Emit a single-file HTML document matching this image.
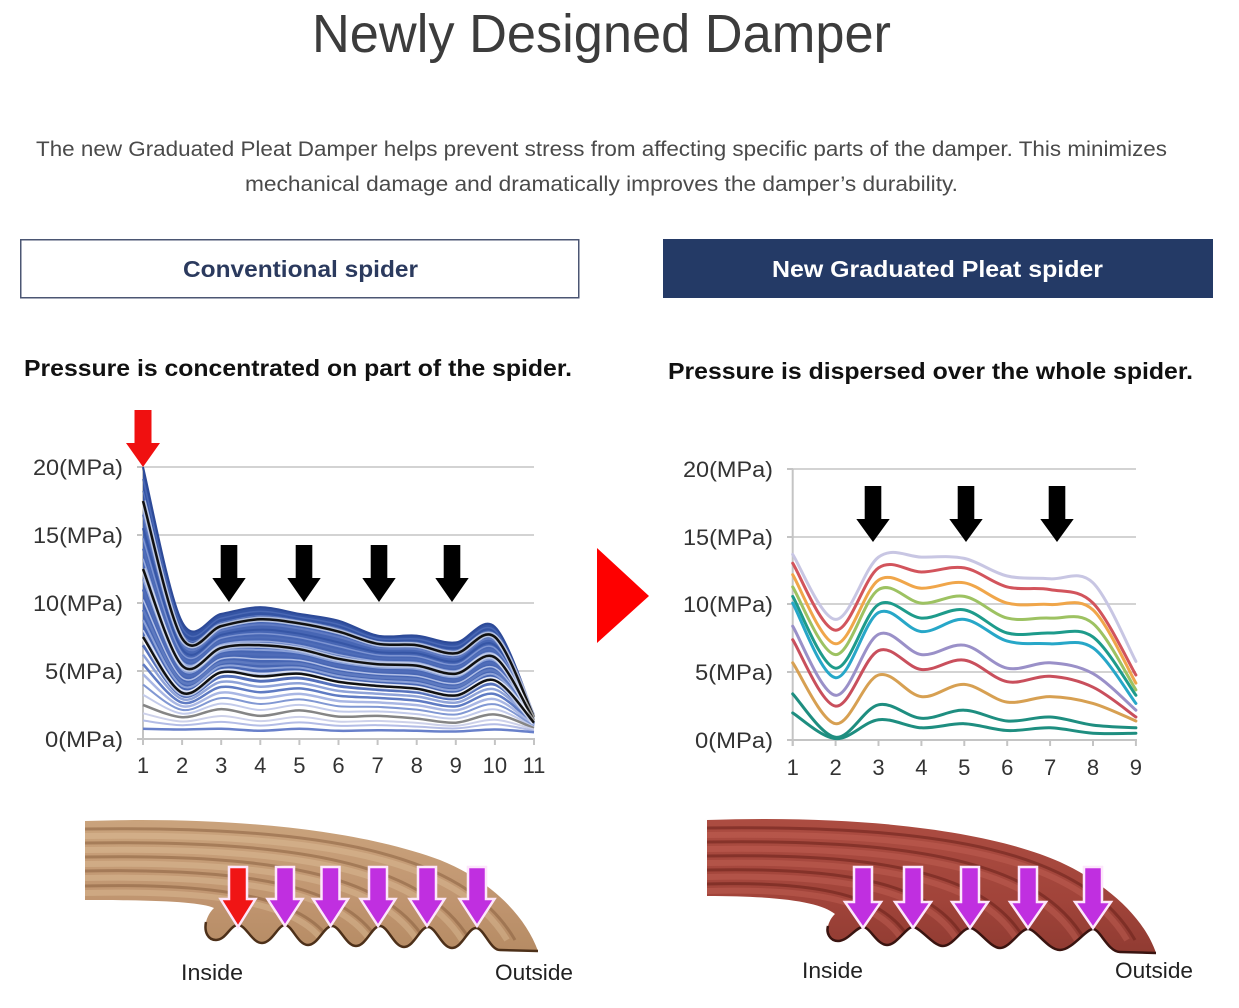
<!DOCTYPE html>
<html><head><meta charset="utf-8">
<style>
html,body{margin:0;padding:0;background:#fff;width:1239px;height:1008px;overflow:hidden}
svg{display:block}
text{font-family:"Liberation Sans",Arial,sans-serif}
</style></head><body>
<svg id="s" width="1239" height="1008" viewBox="0 0 1239 1008" xmlns="http://www.w3.org/2000/svg">
<defs>
 <linearGradient id="tan" x1="0" y1="0" x2="0" y2="1">
   <stop offset="0" stop-color="#cba57e"/><stop offset="0.6" stop-color="#c09570"/><stop offset="1" stop-color="#b48a62"/>
 </linearGradient>
 <linearGradient id="mar" x1="0" y1="0" x2="0" y2="1">
   <stop offset="0" stop-color="#ad4d42"/><stop offset="0.6" stop-color="#a1443a"/><stop offset="1" stop-color="#8e3a31"/>
 </linearGradient>
 <clipPath id="clipL"><path d="M85 821 C230 816 360 830 440 860 C490 880 525 915 538 951 L500 950 C490 950 484 928 476 928 C468 928 462 948 452 948 C442 948 436 927 428 927 C420 927 414 947 404 947 C394 947 388 926 380 926 C372 926 366 946 356 946 C346 946 340 926 332 926 C324 926 318 945 308 945 C298 945 292 925 285 925 C278 925 272 943 262 943 C252 943 246 925 238 925 C230 925 226 940 216 940 C208 940 204 932 206 922 C208 914 212 910 214 908 C200 902 160 900 85 900 Z"/></clipPath>
 <clipPath id="clipR"><path d="M707 820 C880 814 1000 835 1060 862 C1110 885 1145 920 1156 953 L1120 952 C1108 952 1100 929 1093 929 C1086 929 1072 950 1060 950 C1048 950 1036 929 1028 929 C1020 929 1010 948 1000 948 C990 948 978 928 970 928 C962 928 953 946 943 946 C933 946 920 927 913 927 C906 927 897 945 887 945 C877 945 870 927 863 927 C856 927 848 941 838 941 C830 941 826 933 828 926 C830 919 833 916 835 914 C820 902 780 896 707 896 Z"/></clipPath>
</defs>

<!-- Header -->
<text x="312" y="52" font-size="54" fill="#3c3c3c" textLength="579" lengthAdjust="spacingAndGlyphs">Newly Designed Damper</text>
<text x="36" y="156" font-size="21" fill="#4a4a4a" textLength="1131" lengthAdjust="spacingAndGlyphs">The new Graduated Pleat Damper helps prevent stress from affecting specific parts of the damper. This minimizes</text>
<text x="245" y="191" font-size="21" fill="#4a4a4a" textLength="713" lengthAdjust="spacingAndGlyphs">mechanical damage and dramatically improves the damper’s durability.</text>

<!-- Boxes -->
<rect x="20.75" y="239.75" width="558" height="58" fill="#fff" stroke="#4b5673" stroke-width="1.5"/>
<text x="183" y="277" font-size="23" font-weight="bold" fill="#2b3a5e" textLength="235" lengthAdjust="spacingAndGlyphs">Conventional spider</text>
<rect x="663" y="239" width="550" height="59" fill="#243a66"/>
<text x="772" y="277" font-size="23" font-weight="bold" fill="#fff" textLength="331" lengthAdjust="spacingAndGlyphs">New Graduated Pleat spider</text>

<!-- Subtitles -->
<text x="24" y="376" font-size="23" font-weight="bold" fill="#111" textLength="548" lengthAdjust="spacingAndGlyphs">Pressure is concentrated on part of the spider.</text>
<text x="668" y="379" font-size="23" font-weight="bold" fill="#111" textLength="525" lengthAdjust="spacingAndGlyphs">Pressure is dispersed over the whole spider.</text>

<!-- Left chart axes -->
<g stroke="#d3d3d3" stroke-width="2">
 <line x1="137" y1="467" x2="534" y2="467"/>
 <line x1="137" y1="535" x2="534" y2="535"/>
 <line x1="137" y1="603" x2="534" y2="603"/>
 <line x1="137" y1="671" x2="534" y2="671"/>
</g>
<g stroke="#c4c4c4" stroke-width="2">
 <line x1="137" y1="739" x2="535" y2="739"/>
 <line x1="143" y1="467" x2="143" y2="745"/>
</g>
<g id="ticksL" stroke="#c4c4c4" stroke-width="2"></g>
<g font-size="22" fill="#333" text-anchor="end">
 <text x="123" y="475" textLength="90" lengthAdjust="spacingAndGlyphs">20(MPa)</text>
 <text x="123" y="543" textLength="90" lengthAdjust="spacingAndGlyphs">15(MPa)</text>
 <text x="123" y="611" textLength="90" lengthAdjust="spacingAndGlyphs">10(MPa)</text>
 <text x="123" y="679" textLength="78" lengthAdjust="spacingAndGlyphs">5(MPa)</text>
 <text x="123" y="747" textLength="78" lengthAdjust="spacingAndGlyphs">0(MPa)</text>
</g>
<g font-size="22" fill="#333" text-anchor="middle">
 <text x="143" y="773">1</text><text x="182.1" y="773">2</text><text x="221.2" y="773">3</text>
 <text x="260.3" y="773">4</text><text x="299.4" y="773">5</text><text x="338.5" y="773">6</text>
 <text x="377.6" y="773">7</text><text x="416.7" y="773">8</text><text x="455.8" y="773">9</text>
 <text x="494.9" y="773">10</text><text x="534" y="773">11</text>
</g>

<!-- Right chart axes -->
<g stroke="#d3d3d3" stroke-width="2">
 <line x1="787" y1="469" x2="1136" y2="469"/>
 <line x1="787" y1="537" x2="1136" y2="537"/>
 <line x1="787" y1="604" x2="1136" y2="604"/>
 <line x1="787" y1="672" x2="1136" y2="672"/>
</g>
<g stroke="#c4c4c4" stroke-width="2">
 <line x1="787" y1="740" x2="1137" y2="740"/>
 <line x1="792.7" y1="469" x2="792.7" y2="746"/>
</g>
<g id="ticksR" stroke="#c4c4c4" stroke-width="2"></g>
<g font-size="22" fill="#333" text-anchor="end">
 <text x="773" y="477" textLength="90" lengthAdjust="spacingAndGlyphs">20(MPa)</text>
 <text x="773" y="545" textLength="90" lengthAdjust="spacingAndGlyphs">15(MPa)</text>
 <text x="773" y="612" textLength="90" lengthAdjust="spacingAndGlyphs">10(MPa)</text>
 <text x="773" y="680" textLength="78" lengthAdjust="spacingAndGlyphs">5(MPa)</text>
 <text x="773" y="748" textLength="78" lengthAdjust="spacingAndGlyphs">0(MPa)</text>
</g>
<g font-size="22" fill="#333" text-anchor="middle">
 <text x="792.7" y="775">1</text><text x="835.6" y="775">2</text><text x="878.5" y="775">3</text>
 <text x="921.4" y="775">4</text><text x="964.3" y="775">5</text><text x="1007.2" y="775">6</text>
 <text x="1050.1" y="775">7</text><text x="1093" y="775">8</text><text x="1135.9" y="775">9</text>
</g>

<g id="leftLines"></g>
<g id="rightLines"></g>

<!-- Chart arrows -->
<polygon points="134.5,410 151.5,410 151.5,443 160,443 143,467 126,443 134.5,443" fill="#f01010"/>
<g fill="#000">
 <polygon points="220.7,545 237.3,545 237.3,578 245.7,578 229,602 212.3,578 220.7,578"/>
 <polygon points="295.7,545 312.3,545 312.3,578 320.7,578 304,602 287.3,578 295.7,578"/>
 <polygon points="370.7,545 387.3,545 387.3,578 395.7,578 379,602 362.3,578 370.7,578"/>
 <polygon points="443.7,545 460.3,545 460.3,578 468.7,578 452,602 435.3,578 443.7,578"/>
 <polygon points="864.7,486 881.3,486 881.3,519 889.7,519 873,542 856.3,519 864.7,519"/>
 <polygon points="957.7,486 974.3,486 974.3,519 982.7,519 966,542 949.3,519 957.7,519"/>
 <polygon points="1048.7,486 1065.3,486 1065.3,519 1073.7,519 1057,542 1040.3,519 1048.7,519"/>
</g>

<!-- Big red triangle -->
<polygon points="597,548 649,596 597,643" fill="#fe0000"/>

<!-- Spider illustrations -->
<g clip-path="url(#clipL)">
 <rect x="80" y="810" width="470" height="150" fill="url(#tan)"/>
 <g id="groovesL"></g>
</g>
<path d="M538 951 L500 950 C490 950 484 928 476 928 C468 928 462 948 452 948 C442 948 436 927 428 927 C420 927 414 947 404 947 C394 947 388 926 380 926 C372 926 366 946 356 946 C346 946 340 926 332 926 C324 926 318 945 308 945 C298 945 292 925 285 925 C278 925 272 943 262 943 C252 943 246 925 238 925 C230 925 226 940 216 940 C208 940 204 932 206 922" fill="none" stroke="#4d3019" stroke-width="2.5"/>

<g clip-path="url(#clipR)">
 <rect x="700" y="810" width="470" height="150" fill="url(#mar)"/>
 <g id="groovesR"></g>
</g>
<path d="M1156 953 L1120 952 C1108 952 1100 929 1093 929 C1086 929 1072 950 1060 950 C1048 950 1036 929 1028 929 C1020 929 1010 948 1000 948 C990 948 978 928 970 928 C962 928 953 946 943 946 C933 946 920 927 913 927 C906 927 897 945 887 945 C877 945 870 927 863 927 C856 927 848 941 838 941 C830 941 826 933 828 926" fill="none" stroke="#3a1410" stroke-width="2.5"/>

<g id="illArrows" stroke="#fde6fb" stroke-width="2.5" stroke-linejoin="miter"></g>

<g font-size="22" fill="#222">
 <text x="181" y="980" textLength="62" lengthAdjust="spacingAndGlyphs">Inside</text>
 <text x="495" y="980" textLength="78" lengthAdjust="spacingAndGlyphs">Outside</text>
 <text x="802" y="978" textLength="61" lengthAdjust="spacingAndGlyphs">Inside</text>
 <text x="1115" y="978" textLength="78" lengthAdjust="spacingAndGlyphs">Outside</text>
</g>
</svg>

<script>
(function(){
function f(n){return (Math.round(n*10)/10).toString();}
function seg(p){var d='';for(var i=0;i<p.length-1;i++){var p0=p[Math.max(i-1,0)],p1=p[i],p2=p[i+1],p3=p[Math.min(i+2,p.length-1)];
 var c1x=p1[0]+(p2[0]-p0[0])/6,c1y=p1[1]+(p2[1]-p0[1])/6,c2x=p2[0]-(p3[0]-p1[0])/6,c2y=p2[1]-(p3[1]-p1[1])/6;
 d+=' C'+f(c1x)+' '+f(c1y)+' '+f(c2x)+' '+f(c2y)+' '+f(p2[0])+' '+f(p2[1]);}return d;}
function path(p){return 'M'+f(p[0][0])+' '+f(p[0][1])+seg(p);}
function band(a,b){var r=b.slice().reverse();return path(a)+' L'+f(r[0][0])+' '+f(r[0][1])+seg(r)+' Z';}
function interp(a,b,t){return a.map(function(v,i){return v+(b[i]-v)*t;});}

// Left chart
var XL=function(i){return 143+39.1*i;},YL=function(v){return 739-13.6*v;};
function pl(a){return a.map(function(v,i){return [XL(i),YL(v)];});}
var T=[20,8.6,9.2,9.7,9.2,8.7,7.6,7.6,7.1,8.25,1.8];
var B1=[17.5,7.4,8.3,8.8,8.5,7.9,7.0,6.9,6.3,7.5,1.6];
var B2=[12.5,5.4,6.7,6.9,6.6,5.9,5.5,5.4,4.8,6.0,1.35];
var B3=[7.5,3.4,4.9,4.6,4.8,4.2,3.9,3.7,3.2,4.3,1.2];
var G=[2.5,1.6,2.2,1.7,2.1,1.65,1.7,1.5,1.2,1.8,0.8];
var L=[0.75,0.7,0.75,0.6,0.75,0.6,0.65,0.6,0.55,0.7,0.5];
var h='';
h+='<path d="'+band(pl(T),pl(B3))+'" fill="#4766b4"/>';
h+='<path d="'+band(pl(T),pl(B1))+'" fill="#3454a4"/>';
function ln(a,c,w,o){return '<path d="'+path(pl(a))+'" fill="none" stroke="'+c+'" stroke-width="'+w+'"'+(o?' stroke-opacity="'+o+'"':'')+' stroke-linejoin="round"/>';}
h+=ln(interp(T,B1,.35),'#4a68b4',1.5);
h+=ln(interp(T,B1,.7),'#5a76be',1.2);
[[.2,'#5f7ac2',2],[.4,'#3656a6',2],[.55,'#7d94d2',1.5],[.7,'#4f6db8',2],[.85,'#96a9dc',1.5]].forEach(function(s){h+=ln(interp(B1,B2,s[0]),s[1],s[2]);});
[[.15,'#8aa0d8',2],[.3,'#4f6cb8',2.5],[.45,'#b0bee6',1.5],[.6,'#5e7ac0',2.5],[.75,'#8da2d8',2],[.9,'#c6d0ee',1.5]].forEach(function(s){h+=ln(interp(B2,B3,s[0]),s[1],s[2]);});
[[.12,'#5571bc',3],[.26,'#8fa3d9',2.5],[.4,'#5f7bc3',2.5],[.55,'#a9b7e4',2.5],[.7,'#8198d3',2],[.85,'#c3cbea',2]].forEach(function(s){h+=ln(interp(B3,G,s[0]),s[1],s[2]);});
h+=ln(G,'#858585',2.5);
h+=ln(interp(G,L,.35),'#cdd1ea',2);
h+=ln(interp(G,L,.65),'#b4bde6',2);
h+=ln(L,'#6880ca',2.5);
h+=ln(T,'#2d4a98',2);
[B1,B2,B3].forEach(function(a){h+=ln(a,'#ffffff',5.5,.6);h+=ln(a,'#111111',2.5);});
document.getElementById('leftLines').innerHTML=h;

var t='';for(var i=0;i<11;i++){t+='<line x1="'+f(XL(i))+'" y1="739" x2="'+f(XL(i))+'" y2="745"/>';}
[467,535,603,671].forEach(function(y){t+='<line x1="137" y1="'+y+'" x2="143" y2="'+y+'"/>';});
document.getElementById('ticksL').innerHTML=t;

// Right chart
var XR=function(i){return 792.7+42.9*i;},YR=function(v){return 740-13.55*v;};
function pr(a){return a.map(function(v,i){return [XR(i),YR(v)];});}
var S=[
 ['#c8c6e3',[13.7,8.9,13.5,13.5,13.4,12.1,11.9,11.6,5.8]],
 ['#d2545c',[13.05,8.1,12.7,12.4,12.7,11.3,11.1,10.1,4.8]],
 ['#f0a64a',[12.2,7.1,11.8,11.2,11.6,10.1,10.0,9.6,4.2]],
 ['#9dc262',[11.3,6.3,11.1,10.1,10.6,9.0,9.0,8.6,3.7]],
 ['#1e9b8b',[10.6,5.3,10.0,9.0,9.6,7.9,7.9,7.6,3.3]],
 ['#27a7c8',[10.1,4.6,9.4,8.0,8.9,7.3,7.1,6.8,2.7]],
 ['#9a90c8',[8.4,3.3,7.8,6.3,7.0,5.3,5.7,4.9,2.2]],
 ['#c94f5c',[7.4,2.5,6.6,5.2,5.9,4.3,4.7,3.9,1.7]],
 ['#d7a052',[5.7,1.2,4.8,3.2,4.1,2.8,3.2,2.7,1.4]],
 ['#1e8e80',[3.4,0.2,2.6,1.6,2.2,1.4,1.7,1.1,0.9]],
 ['#1e8e80',[2.0,0.1,1.5,0.9,1.2,0.7,0.9,0.5,0.5]]
];
var r='';S.forEach(function(s){r+='<path d="'+path(pr(s[1]))+'" fill="none" stroke="'+s[0]+'" stroke-width="3" stroke-linejoin="round" stroke-linecap="round"/>';});
document.getElementById('rightLines').innerHTML=r;
var tr='';for(var j=0;j<9;j++){tr+='<line x1="'+f(XR(j))+'" y1="740" x2="'+f(XR(j))+'" y2="746"/>';}
[469,537,604,672].forEach(function(y){tr+='<line x1="787" y1="'+y+'" x2="793" y2="'+y+'"/>';});
document.getElementById('ticksR').innerHTML=tr;

// Grooves
function grooves(x0,ys,xes,dark,light){var g='';ys.forEach(function(y0,k){var xe=xes[k],ye=940;
 var d='M'+x0+' '+y0+' C'+f(x0+0.55*(xe-x0))+' '+(y0-3)+' '+f(xe-0.12*(xe-x0))+' '+f(y0+0.2*(ye-y0))+' '+xe+' '+ye;
 var d2='M'+x0+' '+(y0+7)+' C'+f(x0+0.55*(xe-x0))+' '+(y0+4)+' '+f(xe-0.12*(xe-x0)-6)+' '+f(y0+7+0.2*(ye-y0))+' '+(xe-8)+' '+ye;
 g+='<path d="'+d2+'" fill="none" stroke="'+light+'" stroke-width="6" stroke-opacity="0.4"/>';
 g+='<path d="'+d+'" fill="none" stroke="'+dark+'" stroke-width="3" stroke-opacity="0.55"/>';});return g;}
document.getElementById('groovesL').innerHTML=grooves(85,[829,843,857,871,886],[515,470,425,378,330],'#8a6040','#e2c29e');
document.getElementById('groovesR').innerHTML=grooves(707,[828,842,856,870,884],[1135,1085,1025,965,910],'#6a2019','#c8665a');

// Illustration arrows
function arr(cx,top,hs,tip,sh,hh,c){return '<polygon points="'+[[cx-sh,top],[cx+sh,top],[cx+sh,hs],[cx+hh,hs],[cx,tip],[cx-hh,hs],[cx-sh,hs]].map(function(p){return f(p[0])+','+f(p[1]);}).join(' ')+'" fill="'+c+'"/>';}
var a='';
a+=arr(238,867,899,927,9,17.5,'#f01515');
[285,330.5,378,427,477].forEach(function(x){a+=arr(x,867,899,926,9,17.5,'#c02fe0');});
[863,913,970,1028,1093].forEach(function(x){a+=arr(x,867,902,928,9,18,'#c02fe0');});
document.getElementById('illArrows').innerHTML=a;
})();
</script>
</body></html>
